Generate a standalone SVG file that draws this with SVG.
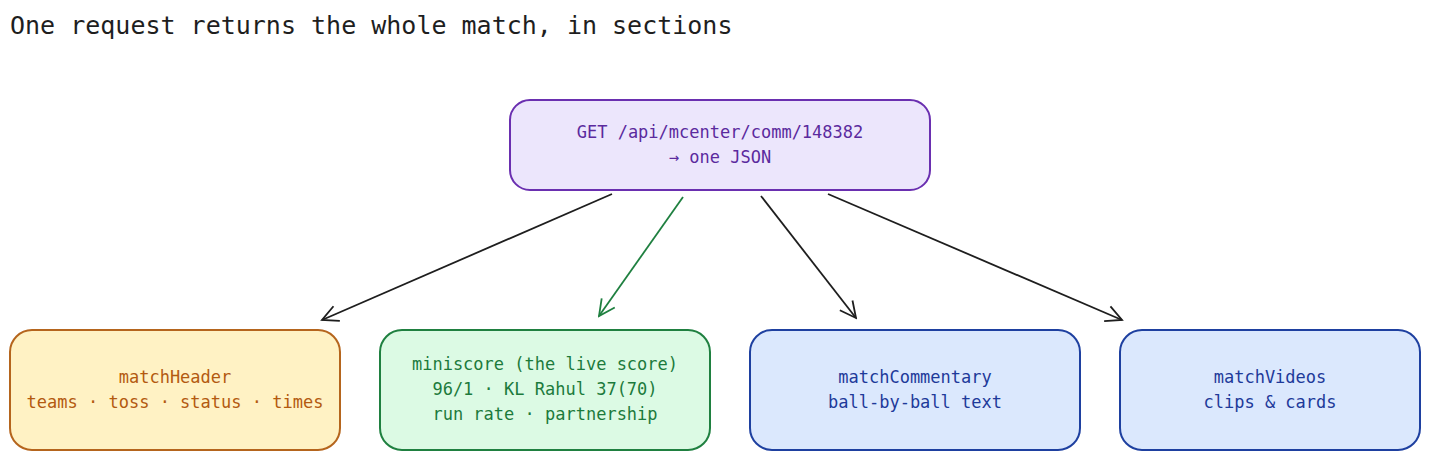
<svg xmlns="http://www.w3.org/2000/svg" width="1430" height="460" viewBox="0 0 1430 460">
<defs>
<marker id="ah" viewBox="0 0 20 20" refX="18" refY="10" markerWidth="20" markerHeight="20" markerUnits="userSpaceOnUse" orient="auto"><path d="M2,2 L18,10 L2,18" fill="none" stroke="#1e1e1e" stroke-width="1.8"/></marker>
<marker id="ahg" viewBox="0 0 20 20" refX="18" refY="10" markerWidth="20" markerHeight="20" markerUnits="userSpaceOnUse" orient="auto"><path d="M2,2 L18,10 L2,18" fill="none" stroke="#1f8040" stroke-width="1.8"/></marker>
</defs>
<style>
text{font-family:"DejaVu Sans Mono","Liberation Mono",monospace;text-anchor:middle;font-size:17px}
.t{text-anchor:start;font-size:25px;fill:#1e1e1e}
rect{stroke-width:2}
.p rect{fill:#ece6fc;stroke:#6a2fb0}.p text{fill:#5b2a9e}
.o rect{fill:#fff2c4;stroke:#b5651d}.o text{fill:#b35a10}
.g rect{fill:#dcfae4;stroke:#1f8040}.g text{fill:#1c7a3c}
.b rect{fill:#dbe8fd;stroke:#1e40a0}.b text{fill:#1e3a9a}
.c line{stroke:#1e1e1e;stroke-width:1.8;marker-end:url(#ah)}
.c line.gr{stroke:#1f8040;marker-end:url(#ahg)}
</style>
<text class="t" x="10" y="34">One request returns the whole match, in sections</text>
<g id="api" class="p"><rect x="510" y="100" width="420" height="90" rx="20"/><text x="720" y="138">GET /api/mcenter/comm/148382</text><text x="720" y="163">→ one JSON</text></g>
<g id="matchHeader" class="o"><rect x="10" y="330" width="330" height="120" rx="22"/><text x="175" y="383">matchHeader</text><text x="175" y="408">teams · toss · status · times</text></g>
<g id="miniscore" class="g"><rect x="380" y="330" width="330" height="120" rx="22"/><text x="545" y="370">miniscore  (the live score)</text><text x="545" y="395">96/1 · KL Rahul 37(70)</text><text x="545" y="420">run rate · partnership</text></g>
<g id="matchCommentary" class="b"><rect x="750" y="330" width="330" height="120" rx="22"/><text x="915" y="383">matchCommentary</text><text x="915" y="408">ball-by-ball text</text></g>
<g id="matchVideos" class="b"><rect x="1120" y="330" width="300" height="120" rx="22"/><text x="1270" y="383">matchVideos</text><text x="1270" y="408">clips &amp; cards</text></g>
<g id="connectors" class="c">
<line x1="612" y1="194" x2="322" y2="320"/>
<line class="gr" x1="683" y1="197" x2="599" y2="316"/>
<line x1="761" y1="196" x2="856" y2="318"/>
<line x1="828" y1="194" x2="1122" y2="320"/>
</g>
</svg>
